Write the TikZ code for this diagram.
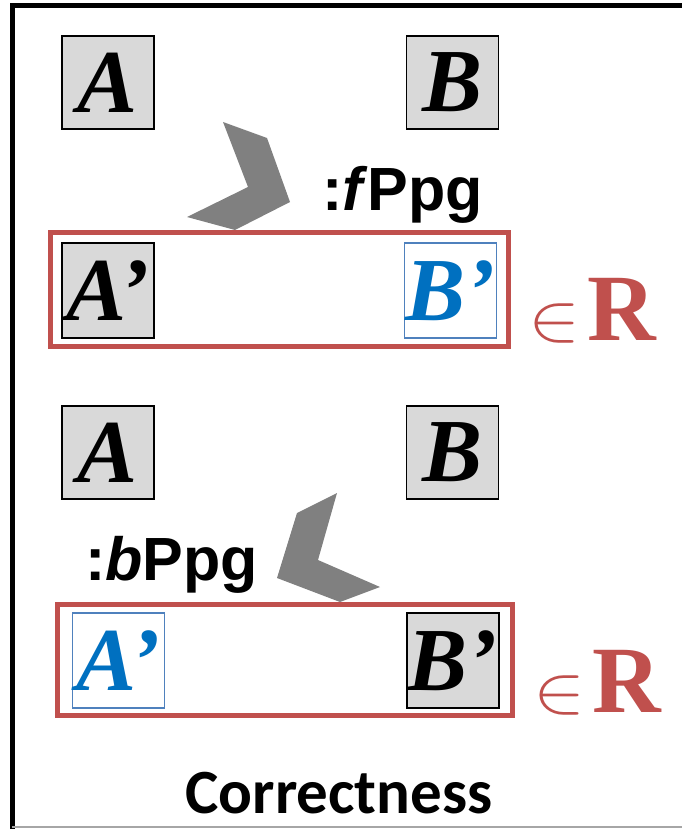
\documentclass[tikz,border=0pt]{standalone}
\usepackage{fontspec}
\setmainfont{Liberation Serif}
\setsansfont{Liberation Sans}
\newfontfamily\titlefont{Carlito}
\usepackage{graphicx}
\usepackage{xcolor}
\usetikzlibrary{positioning}

\definecolor{boxgray}{HTML}{D9D9D9}
\definecolor{setred}{HTML}{C0504D}
\definecolor{hlblue}{HTML}{0070C0}
\definecolor{hledge}{HTML}{4F81BD}
\definecolor{chevgray}{HTML}{808080}

\newcommand{\inrel}{\scalebox{7.8}[6.8]{$\in$}\hspace{7pt}{\fontsize{95}{95}\selectfont\bfseries R}}

\begin{document}
\begin{tikzpicture}[
  x=1pt, y=-1pt,
  varbox/.style={
    rectangle,
    draw=black,
    line width=1.5pt,
    fill=boxgray,
    minimum width=92pt,
    minimum height=93pt,
    inner sep=0pt,
    font=\fontsize{90}{90}\selectfont\bfseries\itshape
  },
  primebox/.style={varbox, minimum height=95pt},
  hlbox/.style={primebox, draw=hledge, line width=1.2pt, fill=white, text=hlblue},
  relbox/.style={rectangle, draw=setred, line width=5pt, inner sep=0pt},
  chev/.style={fill=chevgray},
  steplabel/.style={
    font=\sffamily\bfseries\fontsize{61}{61}\selectfont,
    inner sep=0pt,
    anchor=base west
  },
  member/.style={text=setred, inner sep=0pt, anchor=base west}
]
\useasboundingbox (0,0) rectangle (682,829);

% frame
\draw[line width=5pt] (12,829) -- (12,6) -- (682,6);
\draw[gray!70, line width=1.5pt] (12,827) -- (682,827);

% forward step
\node[varbox] (a1) at (108,82.5) {A};
\node[varbox, right=251pt of a1] (b1) {B};
\fill[chev] (223,122) -- (267,138) -- (290,202) -- (235,230) -- (187,217) -- (248,187) -- cycle;
\node[steplabel] (fwd) at (322,210) {:\textit{f}Ppg};
\node[relbox, minimum width=458pt, minimum height=114pt] (r1) at (279,289) {};
\node[primebox] (ap1) at (108,290.5) {A’};
\node[hlbox, right=249pt of ap1] (bp1) {B’};
\node[member] (in1) at (528,340) {\inrel};

% backward step
\node[varbox] (a2) at (108,452.5) {A};
\node[varbox, right=251pt of a2] (b2) {B};
\fill[chev] (337,493) -- (297,513) -- (277,578) -- (340,602) -- (380,587) -- (318,560) -- cycle;
\node[steplabel] (bwd) at (85,580) {:\textit{b}Ppg};
\node[relbox, minimum width=455pt, minimum height=111pt] (r2) at (284.5,659.5) {};
\node[hlbox] (ap2) at (118.5,660.5) {A’};
\node[primebox, right=241pt of ap2] (bp2) {B’};
\node[member] (in2) at (533,712) {\inrel};

\node[font=\titlefont\bfseries\fontsize{63}{63}\selectfont, inner sep=0pt, anchor=base] (title) at (339,813) {Correctness};
\end{tikzpicture}
\end{document}
